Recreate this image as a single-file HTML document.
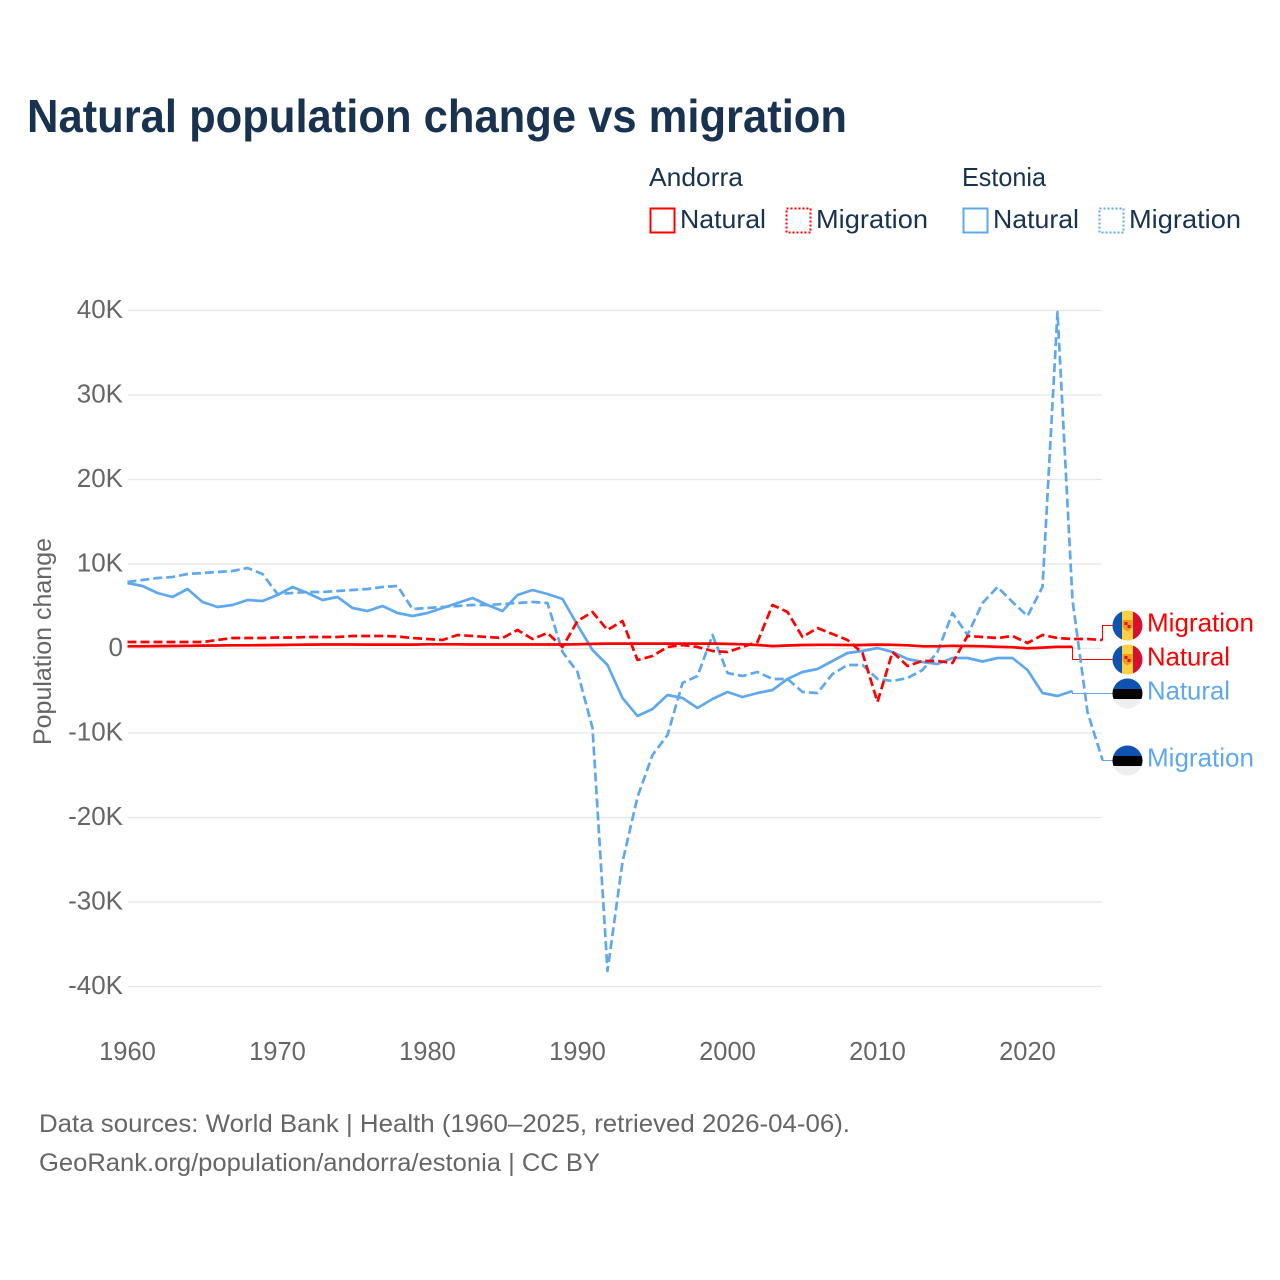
<!DOCTYPE html>
<html>
<head>
<meta charset="utf-8">
<title>Natural population change vs migration</title>
<style>
html,body{margin:0;padding:0;background:#fff;width:1280px;height:1280px;overflow:hidden}
svg{display:block}
text{font-family:"Liberation Sans",sans-serif}
</style>
</head>
<body>
<svg id="chart" width="1280" height="1280" viewBox="0 0 1280 1280" xmlns="http://www.w3.org/2000/svg">
  <defs>
    <clipPath id="flag-clip-1"><circle cx="1127.5" cy="625.5" r="15"/></clipPath>
    <clipPath id="flag-clip-2"><circle cx="1127.5" cy="659.5" r="15"/></clipPath>
    <clipPath id="flag-clip-3"><circle cx="1127.5" cy="693.5" r="15"/></clipPath>
    <clipPath id="flag-clip-4"><circle cx="1127.5" cy="760.5" r="15"/></clipPath>
  </defs>
  <rect width="1280" height="1280" fill="#fff"/>
  <text x="27" y="132" font-size="46" font-weight="700" fill="#18324f" textLength="820" lengthAdjust="spacingAndGlyphs">Natural population change vs migration</text>

  <g>
    <text x="649" y="186" font-size="26" fill="#18324f" textLength="94" lengthAdjust="spacingAndGlyphs">Andorra</text>
    <text x="962" y="186" font-size="26" fill="#18324f" textLength="84" lengthAdjust="spacingAndGlyphs">Estonia</text>
    <rect x="650.5" y="208.5" width="24" height="24" fill="none" stroke="#ff0000" stroke-width="2"/>
    <text x="680" y="228" font-size="26" fill="#18324f" textLength="86" lengthAdjust="spacingAndGlyphs">Natural</text>
    <rect x="786.5" y="208.5" width="24" height="24" fill="none" stroke="#ff0000" stroke-width="2" stroke-dasharray="2,2"/>
    <text x="816" y="228" font-size="26" fill="#18324f" textLength="112" lengthAdjust="spacingAndGlyphs">Migration</text>
    <rect x="963.5" y="208.5" width="24" height="24" fill="none" stroke="#5fa8ee" stroke-width="2"/>
    <text x="993" y="228" font-size="26" fill="#18324f" textLength="86" lengthAdjust="spacingAndGlyphs">Natural</text>
    <rect x="1099.5" y="208.5" width="24" height="24" fill="none" stroke="#5fa8ee" stroke-width="2" stroke-dasharray="2,2"/>
    <text x="1129" y="228" font-size="26" fill="#18324f" textLength="112" lengthAdjust="spacingAndGlyphs">Migration</text>
  </g>

  <g id="grid"></g>
  <g id="y-ticks"></g>
  <g id="x-ticks"></g>
  <text transform="translate(51,745) rotate(-90)" font-size="25" fill="#666666" textLength="207" lengthAdjust="spacingAndGlyphs">Population change</text>

  <g id="leaders"></g>
  <g id="series"></g>

  <g clip-path="url(#flag-clip-1)">
    <rect x="1112" y="610" width="10" height="31" fill="#0f52b0"/>
    <rect x="1122" y="610" width="11" height="31" fill="#fcd044"/>
    <rect x="1133" y="610" width="10" height="31" fill="#d80f2f"/>
    <path d="M1122.500 620h10v6.500q-1 3-5 5q-4-2-5-5z" fill="#f39c12"/>
    <rect x="1124.500" y="622" width="3" height="3" fill="#d80f2f"/>
    <rect x="1127.500" y="625" width="3" height="3" fill="#d80f2f"/>
  </g>
  <g clip-path="url(#flag-clip-2)">
    <rect x="1112" y="644" width="10" height="31" fill="#0f52b0"/>
    <rect x="1122" y="644" width="11" height="31" fill="#fcd044"/>
    <rect x="1133" y="644" width="10" height="31" fill="#d80f2f"/>
    <path d="M1122.500 654h10v6.500q-1 3-5 5q-4-2-5-5z" fill="#f39c12"/>
    <rect x="1124.500" y="656" width="3" height="3" fill="#d80f2f"/>
    <rect x="1127.500" y="659" width="3" height="3" fill="#d80f2f"/>
  </g>
  <g clip-path="url(#flag-clip-3)">
    <rect x="1112" y="678" width="31" height="11" fill="#0f52b0"/>
    <rect x="1112" y="689" width="31" height="10" fill="#000"/>
    <rect x="1112" y="699" width="31" height="11" fill="#eeeeee"/>
  </g>
  <g clip-path="url(#flag-clip-4)">
    <rect x="1112" y="745" width="31" height="11" fill="#0f52b0"/>
    <rect x="1112" y="756" width="31" height="10" fill="#000"/>
    <rect x="1112" y="766" width="31" height="11" fill="#eeeeee"/>
  </g>

  <text x="1147" y="631.500" font-size="26" fill="#ff0000" textLength="107" lengthAdjust="spacingAndGlyphs">Migration</text>
  <text x="1147" y="665.500" font-size="26" fill="#ff0000" textLength="83" lengthAdjust="spacingAndGlyphs">Natural</text>
  <text x="1147" y="699.500" font-size="26" fill="#5fa8ee" textLength="83" lengthAdjust="spacingAndGlyphs">Natural</text>
  <text x="1147" y="766.500" font-size="26" fill="#5fa8ee" textLength="107" lengthAdjust="spacingAndGlyphs">Migration</text>

  <text x="39" y="1132" font-size="25" fill="#666666" textLength="811" lengthAdjust="spacingAndGlyphs">Data sources: World Bank | Health (1960–2025, retrieved 2026-04-06).</text>
  <text x="39" y="1171" font-size="25" fill="#666666" textLength="561" lengthAdjust="spacingAndGlyphs">GeoRank.org/population/andorra/estonia | CC BY</text>
</svg>
<script>
const startYear = 1960;
const yTickValues = [40, 30, 20, 10, 0, -10, -20, -30, -40];
const yTickLabels = ['40K', '30K', '20K', '10K', '0', '-10K', '-20K', '-30K', '-40K'];
const xTickYears = [1960, 1970, 1980, 1990, 2000, 2010, 2020];
const andorraNatural = [
  0.2,0.2,0.22,0.24,0.26,0.28,0.3,0.32,0.32,0.34,
  0.36,0.38,0.4,0.42,0.42,0.42,0.4,0.4,0.4,0.4,
  0.44,0.44,0.44,0.42,0.42,0.42,0.42,0.42,0.42,0.42,
  0.44,0.48,0.52,0.52,0.52,0.52,0.52,0.52,0.52,0.52,
  0.48,0.44,0.36,0.22,0.3,0.36,0.38,0.38,0.36,0.36,
  0.4,0.38,0.32,0.2,0.2,0.26,0.24,0.2,0.14,0.1,
  -0.05,0.05,0.14,0.14
];
const andorraMigration = [
  0.71,0.71,0.71,0.71,0.71,0.71,0.95,1.18,1.18,1.18,
  1.24,1.24,1.3,1.3,1.3,1.42,1.42,1.42,1.36,1.18,
  1.07,0.95,1.54,1.42,1.3,1.18,2.13,1.07,1.78,0.12,
  3.2,4.26,2.13,3.2,-1.42,-0.95,0.12,0.36,0.12,-0.36,
  -0.47,0.12,0.71,5.09,4.26,1.3,2.37,1.66,0.95,-0.59,
  -6.39,-0.47,-2.13,-1.54,-1.54,-1.78,1.42,1.3,1.18,1.42,
  0.59,1.54,1.18,1.07,1.07,0.95
];
const estoniaNatural = [
  7.69,7.34,6.51,6.04,6.98,5.44,4.85,5.09,5.68,5.56,
  6.27,7.22,6.51,5.68,6.04,4.73,4.38,4.97,4.14,3.79,
  4.14,4.73,5.33,5.92,5.09,4.38,6.27,6.86,6.39,5.8,
  2.72,-0.24,-2.01,-5.92,-8.05,-7.22,-5.56,-5.92,-7.1,-6.04,
  -5.21,-5.8,-5.33,-4.97,-3.67,-2.84,-2.49,-1.54,-0.59,-0.36,
  0,-0.47,-1.3,-1.66,-1.89,-1.18,-1.18,-1.6,-1.18,-1.18,
  -2.6,-5.33,-5.68,-5.09
];
const estoniaMigration = [
  7.81,8.05,8.28,8.4,8.76,8.88,8.99,9.11,9.47,8.76,
  6.39,6.51,6.63,6.63,6.75,6.86,6.98,7.22,7.34,4.62,
  4.73,4.85,4.97,5.09,5.09,5.21,5.33,5.44,5.33,-0.47,
  -2.84,-9.47,-38.22,-25.33,-17.63,-12.66,-10.3,-4.14,-3.31,1.54,
  -2.96,-3.31,-2.84,-3.67,-3.67,-5.21,-5.33,-3.08,-2.01,-2.01,
  -3.67,-3.91,-3.55,-2.6,-0.47,4.14,1.54,5.33,7.22,5.44,
  3.79,7.22,39.76,5.68,-7.57,-13.25
];

const NS = 'http://www.w3.org/2000/svg';
function xScale(year) { return 127.5 + (year - 1960) * 15; }
function yScale(value) { return 648 - value * 8.45; }
function seriesPoints(values) {
  return values.map(function (v, i) {
    return xScale(startYear + i).toFixed(1) + ',' + yScale(v).toFixed(1);
  }).join(' ');
}
function lastPoint(values) {
  return [xScale(startYear + values.length - 1), yScale(values[values.length - 1])];
}

const grid = document.getElementById('grid');
const yTicks = document.getElementById('y-ticks');
yTickValues.forEach(function (v, i) {
  const line = document.createElementNS(NS, 'line');
  
  
  line.setAttribute('x1', 128);
  line.setAttribute('x2', 1102);
  line.setAttribute('y1', yScale(v) + 0.5);
  line.setAttribute('y2', yScale(v) + 0.5);
  line.setAttribute('stroke', '#e6e6e6');
  line.setAttribute('stroke-width', '1.2');
  grid.appendChild(line);

  const label = document.createElementNS(NS, 'text');
  
  
  label.setAttribute('x', 123);
  label.setAttribute('y', yScale(v) + 8);
  label.setAttribute('text-anchor', 'end');
  label.setAttribute('font-size', '26');
  label.setAttribute('fill', '#666666');
  label.textContent = yTickLabels[i];
  yTicks.appendChild(label);
});

const xTicks = document.getElementById('x-ticks');
xTickYears.forEach(function (year) {
  const label = document.createElementNS(NS, 'text');
  
  
  label.setAttribute('x', xScale(year));
  label.setAttribute('y', 1060);
  label.setAttribute('text-anchor', 'middle');
  label.setAttribute('font-size', '25.500');
  label.setAttribute('fill', '#666666');
  label.textContent = String(year);
  xTicks.appendChild(label);
});

const leaders = document.getElementById('leaders');
function addLeader(name, values, color, labelY) {
  const end = lastPoint(values);
  const path = document.createElementNS(NS, 'path');
  
  
  path.setAttribute('d', 'M' + end[0] + ' ' + end[1] + 'V' + labelY + 'H1113');
  path.setAttribute('fill', 'none');
  path.setAttribute('stroke', color);
  path.setAttribute('stroke-width', '1.100');
  leaders.appendChild(path);
}
addLeader('leader-andorra-migration', andorraMigration, '#ff0000', 625.5);
addLeader('leader-andorra-natural', andorraNatural, '#ff0000', 659.5);
addLeader('leader-estonia-natural', estoniaNatural, '#5fa8ee', 693.5);
addLeader('leader-estonia-migration', estoniaMigration, '#5fa8ee', 760.5);

const series = document.getElementById('series');
function addSeries(name, values, color, dashed) {
  const line = document.createElementNS(NS, 'polyline');
  
  
  line.setAttribute('points', seriesPoints(values));
  line.setAttribute('fill', 'none');
  line.setAttribute('stroke', color);
  line.setAttribute('stroke-width', '2.700');
  line.setAttribute('stroke-linejoin', 'round');
  if (dashed) {
    line.setAttribute('stroke-dasharray', '9,4');
  }
  series.appendChild(line);
}
addSeries('line-estonia-natural', estoniaNatural, '#5fa8ee', false);
addSeries('line-estonia-migration', estoniaMigration, '#5fa8ee', true);
addSeries('line-andorra-natural', andorraNatural, '#ff0000', false);
addSeries('line-andorra-migration', andorraMigration, '#ff0000', true);
</script>
</body>
</html>
